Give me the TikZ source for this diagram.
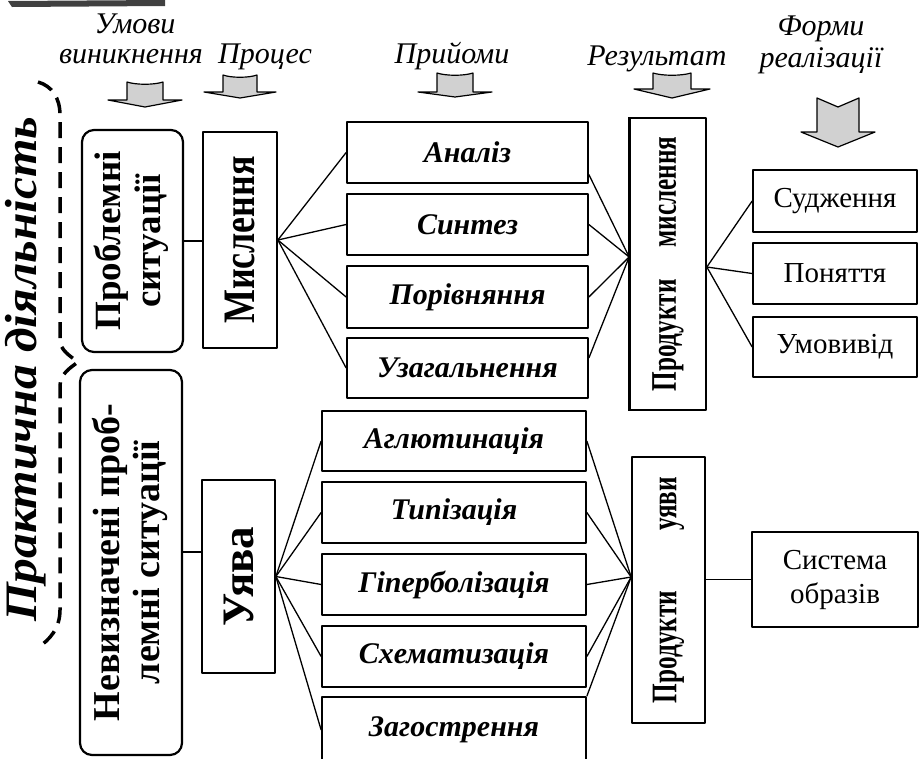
\documentclass[tikz,border=0pt]{standalone}
\usepackage{fontspec}
\usepackage{graphicx}
\setmainfont{Liberation Serif}
\newfontfamily\condfont[FakeStretch=0.8]{Liberation Serif}
\newfontfamily\vcond[FakeStretch=0.7]{Liberation Serif}
\newfontfamily\wideit[FakeStretch=1.1]{Liberation Serif}
\usetikzlibrary{calc}
\newcommand{\fs}[2]{\fontsize{#1}{#2}\selectfont}
\newcommand{\hdarrow}[6]{% c, top, half box width, half flange width, box height, tip depth
  \draw[line width=1.2pt, fill=black!18] ({#1-#3},#2) .. controls ({#1-#3/2},{#2+3}) and ({#1+#3/2},{#2+3}) .. ({#1+#3},#2)
    -- ({#1+#3},{#2+#5}) -- ({#1+#4},{#2+#5}) -- (#1,{#2+#5+#6}) -- ({#1-#4},{#2+#5}) -- ({#1-#3},{#2+#5}) -- cycle;}
\begin{document}
\begin{tikzpicture}[x=1pt,y=-1pt,line join=round,
  bx/.style 2 args={draw,line width=1.7pt,inner sep=0pt,minimum width=#1,minimum height=#2},
  rbx/.style 2 args={draw,line width=2.2pt,rounded corners=12pt,inner sep=0pt,minimum width=#1,minimum height=#2},
  tech/.style={font=\fs{30}{34}\bfseries\itshape},
  outp/.style={font=\fs{29}{34}},
  hdr/.style={font=\fs{30}{32}\itshape,anchor=base,inner sep=0pt},
  conn/.style={line width=1.3pt}]
\useasboundingbox (0,0) rectangle (920,758);
\clip (0,0) rectangle (920,758);

% scan bar at top-left
\fill[black!75] (8,1) -- (165,0) -- (165,6) -- (12,7) -- cycle;

% headers
\node[hdr] (h1a) at (135,33) {Умови};
\node[hdr] (h1b) at (131,63) {виникнення};
\node[hdr] (h2) at (265,63) {Процес};
\node[hdr] (h3) at (452,63) {Прийоми};
\node[hdr] (h4) at (657,65) {Результат};
\node[hdr] (h5a) at (821,35) {Форми};
\node[hdr] (h5b) at (821,67) {реалізації};

% header arrows
\hdarrow{145}{82}{18}{37}{18}{7}
\hdarrow{240}{75}{17}{36}{17}{6}
\hdarrow{455}{73}{18}{37}{19}{5}
\hdarrow{672}{73}{19}{38}{16}{9}
\draw[line width=1.2pt, fill=black!18] (817,98) -- (838,107) -- (859,98) -- (859,132) -- (875,132) -- (838,147) -- (801,132) -- (817,132) -- cycle;

% practical activity label and brace
\node[inner sep=0pt] (pd) at (26,369) {\rotatebox{90}{\wideit\fs{45}{48}\bfseries\itshape Практична діяльність}};
\draw[line width=3.5pt,dash pattern=on 16pt off 9pt]
  (38,82) .. controls (52,86) and (60,98) .. (60,115) -- (60,340)
  .. controls (60,350) and (70,356) .. (78,362) .. controls (70,368) and (60,374) .. (60,386)
  -- (60,610) .. controls (60,628) and (50,640) .. (37,648);

% upper group
\node[rbx={101}{222}] (ps) at (132.5,241) {\rotatebox{90}{\fs{37}{40}\bfseries\begin{tabular}{@{}c@{}}Проблемні\\ситуації\end{tabular}}};
\node[bx={74}{216}] (mis) at (240,240) {\rotatebox{90}{\condfont\fs{45}{48}\bfseries Мислення}};
\node[bx={241}{61},tech] (a1) at (467.5,152.5) {Аналіз};
\node[bx={241}{61},tech] (a2) at (467.5,224.5) {Синтез};
\node[bx={241}{62},tech] (a3) at (467.5,297) {Порівняння};
\node[bx={241}{60},tech] (a4) at (467.5,368) {Узагальнення};
\node[bx={76}{292}] (pm) at (668,264) {\rotatebox{90}{\vcond\fs{36}{38}\bfseries Продукти\hspace{32pt}мислення}};
\node[bx={164}{62},outp] (r1) at (835,201) {Судження};
\node[bx={164}{61},outp] (r2) at (835,273.5) {Поняття};
\node[bx={164}{60},outp] (r3) at (835,347) {Умовивід};
\draw[line width=3pt] (pm.north west) -- (pm.south west);

% lower group
\node[rbx={102}{385}] (nps) at (131,562.5) {\rotatebox{90}{\fs{38}{40}\bfseries\begin{tabular}{@{}c@{}}Невизначені проб-\\лемні ситуації\end{tabular}}};
\node[bx={73}{193}] (uy) at (238.5,576.5) {\rotatebox{90}{\fs{45}{48}\bfseries Уява}};
\node[bx={264}{60},tech] (b1) at (454,441) {Аглютинація};
\node[bx={264}{61},tech] (b2) at (454,512.5) {Типізація};
\node[bx={264}{61},tech] (b3) at (454,584.5) {Гіперболізація};
\node[bx={264}{61},tech] (b4) at (454,656.5) {Схематизація};
\node[bx={264}{66},tech] (b5) at (454,730) {Загострення};
\node[bx={73}{266}] (pu) at (668.5,590) {\rotatebox{90}{\vcond\fs{36}{38}\bfseries Продукти\hspace{60pt}уяви}};
\node[bx={166}{95},outp,align=center] (so) at (835,579.5) {Система\\образів};

% connectors upper
\draw[conn] (ps.east) -- (ps.east -| mis.west);
\foreach \n in {a1,a2,a3,a4} {\draw[conn] (mis.east) -- (\n.west);}
\coordinate (cm) at ([yshift=7pt]pm.west);
\foreach \n in {a2,a3} {\draw[conn] (\n.east) -- (cm);}
\draw[conn] ([yshift=-22pt]a1.east) -- (cm);
\draw[conn] ([yshift=10pt]a4.east) -- (cm);
\coordinate (cmr) at ([yshift=-3pt]pm.east);
\foreach \n in {r1,r2,r3} {\draw[conn] (cmr) -- (\n.west);}

% connectors lower
\coordinate (j1) at ([yshift=10.5pt]nps.east);
\draw[conn] (j1) -- (j1 -| uy.west);
\foreach \n in {b1,b2,b3,b4,b5} {\draw[conn] (uy.east) -- (\n.west);}
\coordinate (cu) at ([yshift=13pt]pu.west);
\foreach \n in {b1,b2,b3,b4} {\draw[conn] (\n.east) -- (cu);}
\draw[conn] (b5.north east) -- (cu);
\draw[conn] (so.west -| pu.east) -- (so.west);
\end{tikzpicture}
\end{document}
